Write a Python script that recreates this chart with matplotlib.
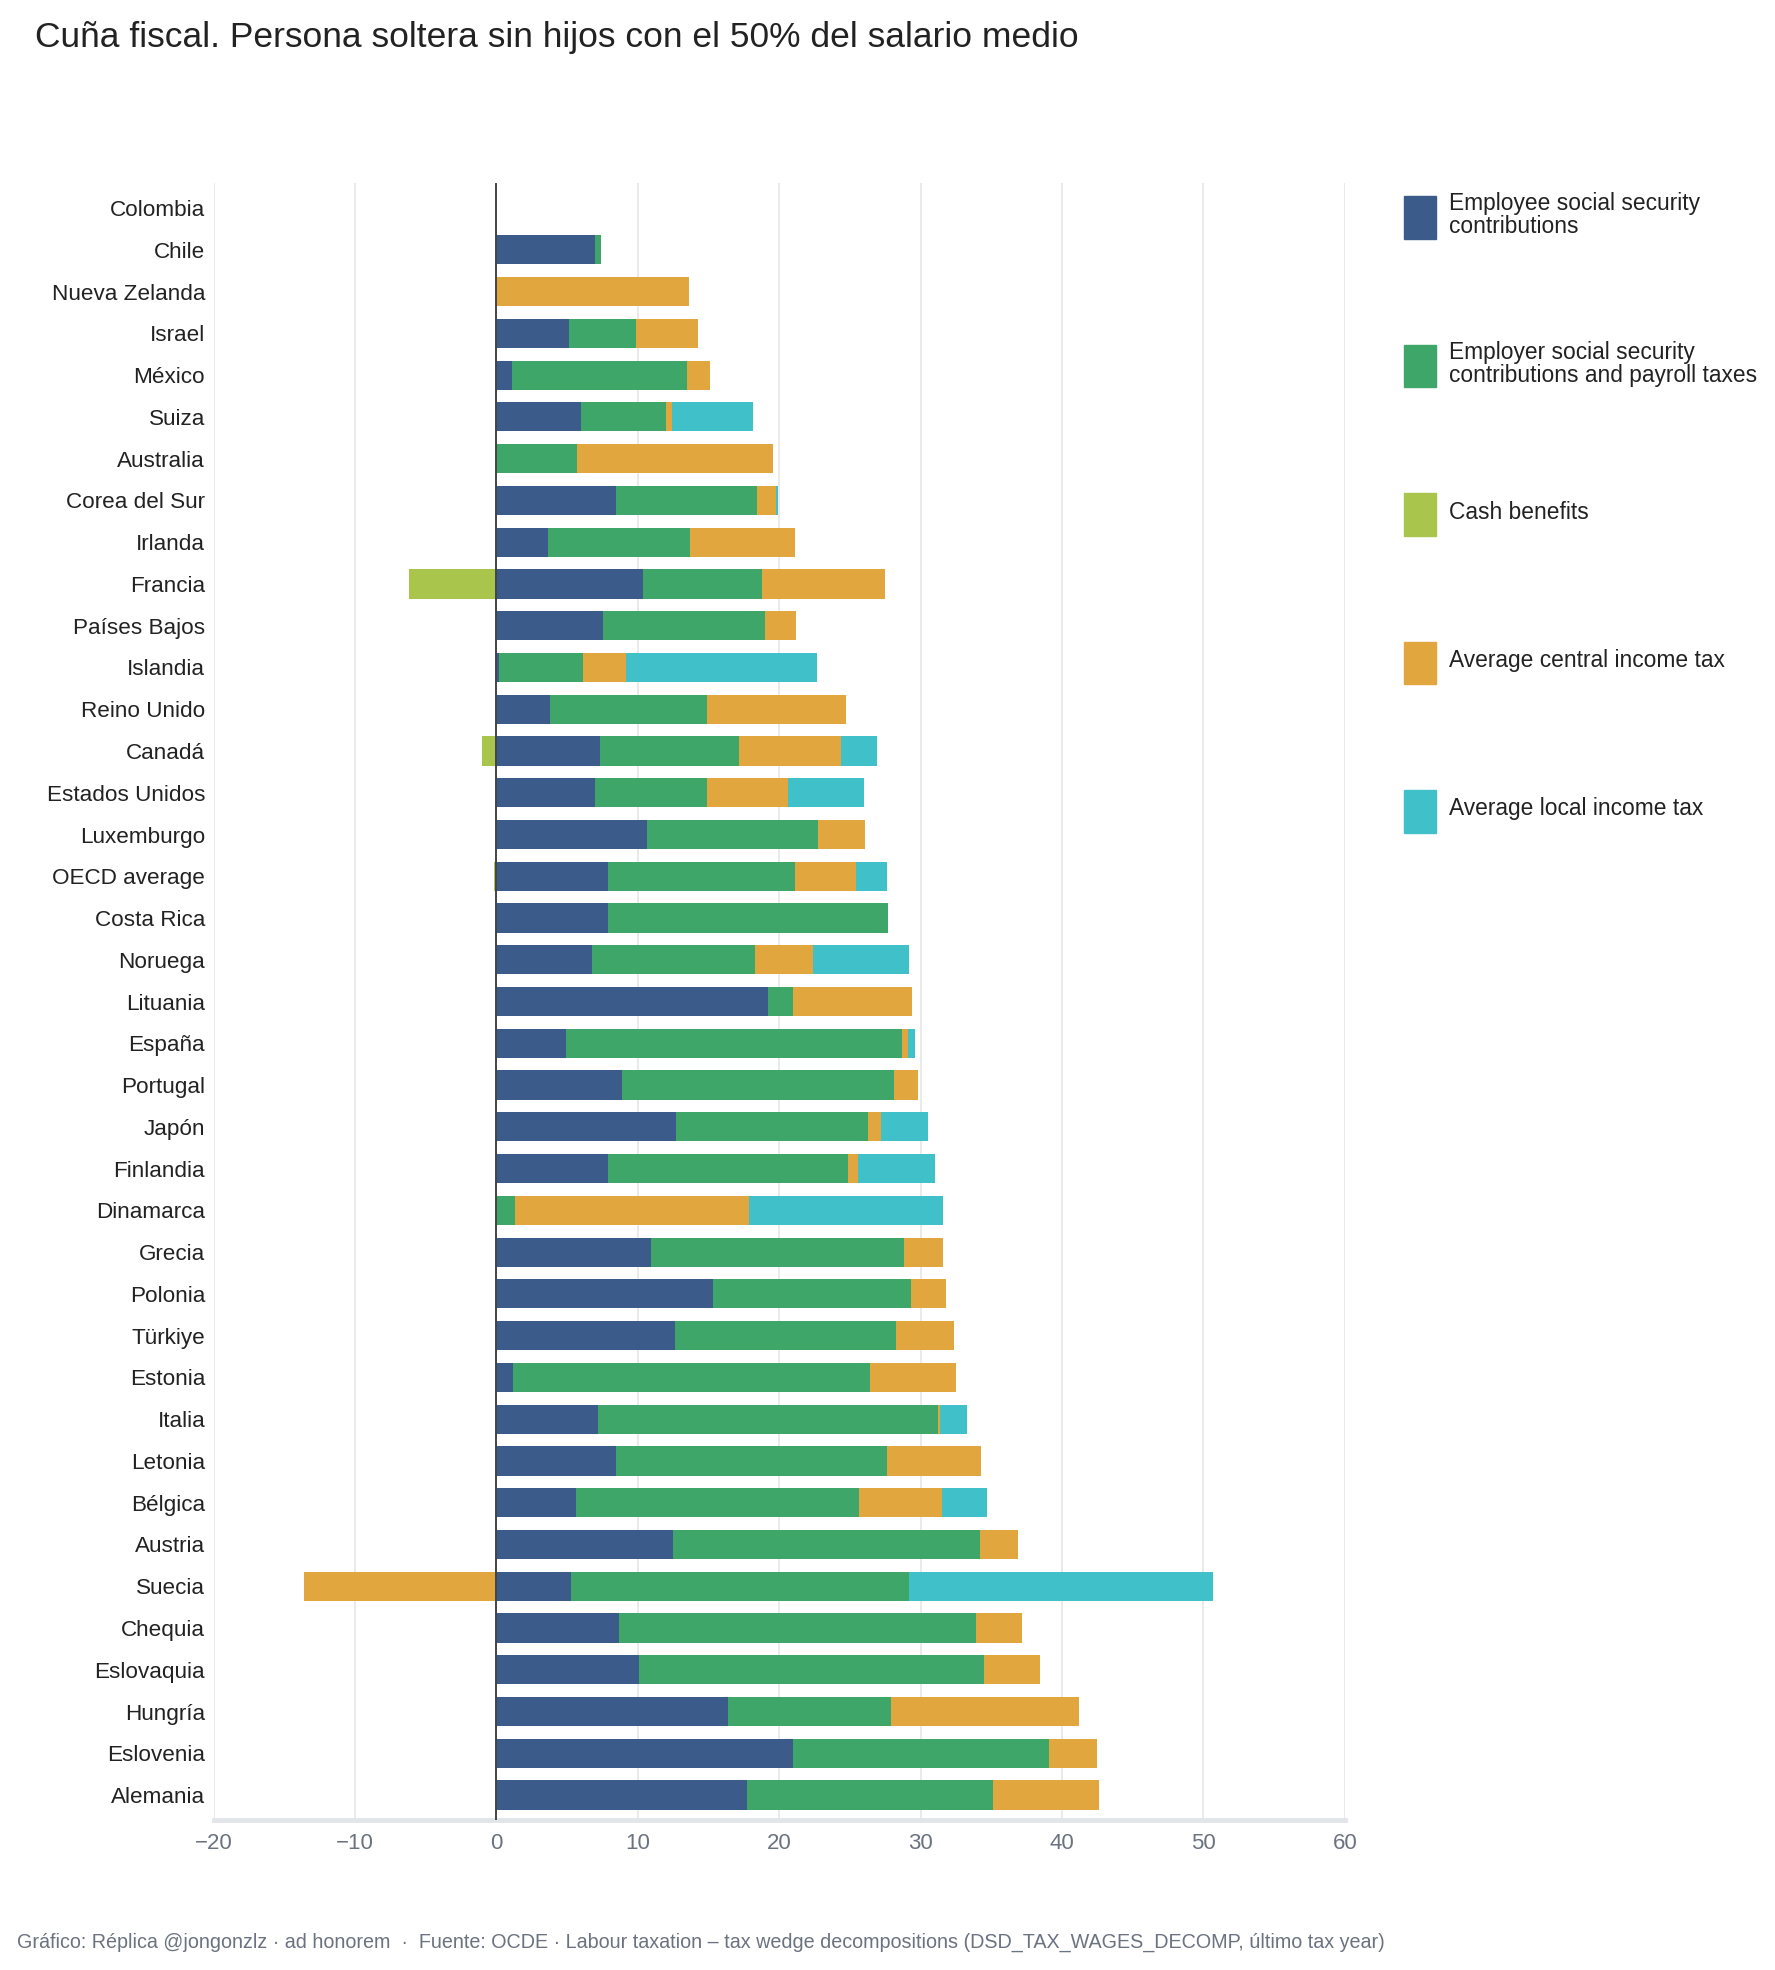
import numpy as np
import matplotlib.pyplot as plt
from matplotlib.patches import Rectangle

plt.rcParams['font.family'] = ['Liberation Sans', 'DejaVu Sans']

countries = ['Colombia', 'Chile', 'Nueva Zelanda', 'Israel', 'México', 'Suiza', 'Australia',
             'Corea del Sur', 'Irlanda', 'Francia', 'Países Bajos', 'Islandia', 'Reino Unido',
             'Canadá', 'Estados Unidos', 'Luxemburgo', 'OECD average', 'Costa Rica', 'Noruega',
             'Lituania', 'España', 'Portugal', 'Japón', 'Finlandia', 'Dinamarca', 'Grecia',
             'Polonia', 'Türkiye', 'Estonia', 'Italia', 'Letonia', 'Bélgica', 'Austria',
             'Suecia', 'Chequia', 'Eslovaquia', 'Hungría', 'Eslovenia', 'Alemania']

employee = [0, 7.0, 0, 5.1, 1.1, 5.95, 0, 8.45, 3.65, 10.4, 7.55, 0.2, 3.8,
            7.3, 7.0, 10.65, 7.9, 7.9, 6.75, 19.2, 4.95, 8.9, 12.7, 7.9, 0, 10.9,
            15.35, 12.6, 1.15, 7.2, 8.45, 5.6, 12.5, 5.25, 8.7, 10.1, 16.35, 20.95, 17.75]
employer = [0, 0.4, 0, 4.8, 12.4, 6.05, 5.7, 9.95, 10.05, 8.35, 11.45, 5.9, 11.1,
            9.85, 7.9, 12.1, 13.25, 19.8, 11.55, 1.75, 23.7, 19.2, 13.6, 16.95, 1.35, 17.95,
            13.95, 15.65, 25.3, 24.05, 19.15, 20.05, 21.7, 23.95, 25.2, 24.35, 11.55, 18.15, 17.4]
cash = [0, 0, 0, 0, 0, 0, 0, 0, 0, -6.2, 0, 0, 0,
        -1.05, 0, 0, -0.2, 0, 0, 0, 0, 0, 0, 0, 0, 0,
        0, 0, 0, 0, 0, 0, 0, 0, 0, 0, 0, 0, 0]
central = [0, 0, 13.6, 4.35, 1.6, 0.45, 13.85, 1.4, 7.45, 8.7, 2.2, 3.1, 9.8,
           7.2, 5.7, 3.35, 4.25, 0, 4.1, 8.45, 0.45, 1.7, 0.9, 0.7, 16.5, 2.75,
           2.5, 4.1, 6.05, 0.1, 6.7, 5.85, 2.65, -13.6, 3.3, 4.0, 13.3, 3.35, 7.45]
local = [0, 0, 0, 0, 0, 5.7, 0, 0.1, 0, 0, 0, 13.5, 0,
         2.55, 5.4, 0, 2.2, 0, 6.8, 0, 0.5, 0, 3.3, 5.5, 13.7, 0,
         0, 0, 0, 1.95, 0, 3.2, 0, 21.5, 0, 0, 0, 0, 0]

series = [employee, employer, cash, central, local]
labels = ['Employee social security\ncontributions',
          'Employer social security\ncontributions and payroll taxes',
          'Cash benefits', 'Average central income tax', 'Average local income tax']
colors = ['#3b5b8a', '#3fa66a', '#a9c54b', '#e1a73e', '#40c0c8']

fig = plt.figure(figsize=(17.75, 19.7), dpi=100)
ax = fig.add_axes([0.1203, 0.0761, 0.6374, 0.831])

y = np.arange(len(countries))
pos = np.zeros(len(countries))
neg = np.zeros(len(countries))
for vals, col in zip(series, colors):
    v = np.array(vals, dtype=float)
    left = np.where(v >= 0, pos, neg)
    ax.barh(y, v, left=left, height=0.7, color=col, linewidth=0, zorder=3)
    pos = pos + np.where(v > 0, v, 0)
    neg = neg + np.where(v < 0, v, 0)

ax.set_xlim(-20, 60)
ax.set_ylim(len(countries) - 0.4, -0.6)
ax.set_xticks(range(-20, 61, 10))
ax.set_xticklabels([str(t).replace('-', '\u2212') for t in range(-20, 61, 10)])
ax.set_yticks(y)
ax.set_yticklabels(countries)
ax.grid(axis='x', color='#e6e6e6', linewidth=1.2, zorder=0)
ax.axvline(0, color='#444444', linewidth=1.4, zorder=4)
for s in ['top', 'right', 'left']:
    ax.spines[s].set_visible(False)
ax.spines['bottom'].set_color('#e2e5e8')
ax.spines['bottom'].set_linewidth(3.5)
ax.tick_params(axis='y', length=0, pad=6, labelsize=16.2, labelcolor='#222222')
ax.tick_params(axis='x', length=0, pad=9, labelsize=16, labelcolor='#6b7280')

fig.text(35 / 1775, 1 - 37 / 1970, 'Cuña fiscal. Persona soltera sin hijos con el 50% del salario medio',
         fontsize=25.5, color='#222222', va='center', ha='left')

# legend
for i, (lab, col) in enumerate(zip(labels, colors)):
    top = 196 + i * 148.5
    fig.patches.append(Rectangle((1404 / 1775, 1 - (top + 42.5) / 1970), 32 / 1775, 42.5 / 1970,
                                 transform=fig.transFigure, color=col, figure=fig))
    fig.text(1449 / 1775, 1 - (top + 19) / 1970, lab, fontsize=16.4, color='#222222',
             va='center', ha='left', linespacing=1.0)

fig.text(17 / 1775, 1 - 1942 / 1970,
         'Gráfico: Réplica @jongonzlz · ad honorem  ·  Fuente: OCDE · Labour taxation \u2013 tax wedge '
         'decompositions (DSD_TAX_WAGES_DECOMP, último tax year)',
         fontsize=14.2, color='#6b7280', va='center', ha='left')

fig.savefig('out.png', dpi=100)
